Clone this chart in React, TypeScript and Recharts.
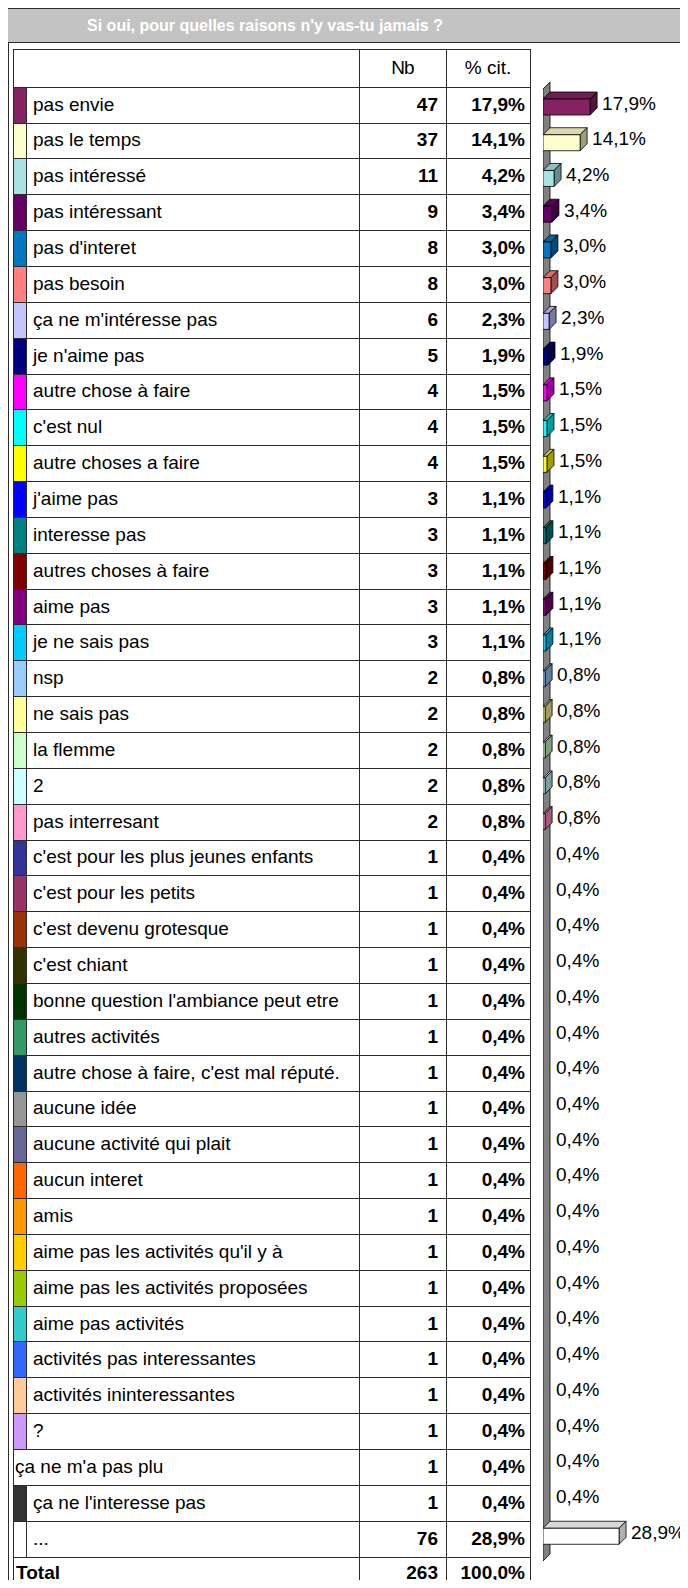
import { BarChart, Bar, XAxis, YAxis, LabelList, ReferenceArea } from "recharts";

// rows of the table (same order as the picture)
const labels = [
  "pas envie",
  "pas le temps",
  "pas intéressé",
  "pas intéressant",
  "pas d'interet",
  "pas besoin",
  "ça ne m'intéresse pas",
  "je n'aime pas",
  "autre chose à faire",
  "c'est nul",
  "autre choses a faire",
  "j'aime pas",
  "interesse pas",
  "autres choses à faire",
  "aime pas",
  "je ne sais pas",
  "nsp",
  "ne sais pas",
  "la flemme",
  "2",
  "pas interresant",
  "c'est pour les plus jeunes enfants",
  "c'est pour les petits",
  "c'est devenu grotesque",
  "c'est chiant",
  "bonne question l'ambiance peut etre",
  "autres activités",
  "autre chose à faire, c'est mal réputé.",
  "aucune idée",
  "aucune activité qui plait",
  "aucun interet",
  "amis",
  "aime pas les activités qu'il y à",
  "aime pas les activités proposées",
  "aime pas activités",
  "activités pas interessantes",
  "activités ininteressantes",
  "?",
  "ça ne m'a pas plu",
  "ça ne l'interesse pas",
  "...",
];

const counts = [
  47, 37, 11, 9, 8, 8, 6, 5, 4, 4, 4, 3, 3, 3, 3, 3, 2, 2, 2, 2, 2,
  1, 1, 1, 1, 1, 1, 1, 1, 1, 1, 1, 1, 1, 1, 1, 1, 1, 1, 1, 76,
];

const pcts = [
  17.9, 14.1, 4.2, 3.4, 3.0, 3.0, 2.3, 1.9, 1.5, 1.5, 1.5, 1.1, 1.1, 1.1, 1.1, 1.1,
  0.8, 0.8, 0.8, 0.8, 0.8,
  0.4, 0.4, 0.4, 0.4, 0.4, 0.4, 0.4, 0.4, 0.4, 0.4, 0.4, 0.4, 0.4, 0.4, 0.4, 0.4, 0.4, 0.4, 0.4,
  28.9,
];

const total = 263;
const totalPct = 100.0;

// swatch / bar colours, null = no swatch
const colors = [
  "#852262", "#ffffcc", "#a8e2e2", "#660066", "#0077c0", "#ff8080", "#c4c4ff", "#000080",
  "#ff00ff", "#00ffff", "#ffff00", "#0000ff", "#008080", "#800000", "#800080", "#00ccff",
  "#99ccff", "#ffff99", "#ccffcc", "#ccffff", "#ff99cc", "#333399", "#993366", "#993300",
  "#333300", "#003300", "#339966", "#003366", "#969696", "#666699", "#ff6600", "#ff9900",
  "#ffcc00", "#99cc00", "#33cccc", "#3366ff", "#ffcc99", "#cc99ff", null, "#333333", "#ffffff",
];

const FONT = '"Liberation Sans", Arial, sans-serif';
const LINE = "#2b2b2b";

// layout
const TABLE_L = 13;
const COL_NB = 359;
const COL_PCT = 446;
const TABLE_R = 530;
const TABLE_T = 49;
const ROW0 = 86.7;
const ROW_H = 35.85;
const DEPTH = 7;

const fmt = (v: number) => v.toFixed(1).replace(".", ",") + "%";

const data = labels.map((label, i) => ({
  label,
  pct: pcts[i],
  color: colors[i] ?? "#ffffff",
}));

function shade(hex: string, k: number) {
  const n = parseInt(hex.slice(1), 16);
  const r = Math.round(((n >> 16) & 255) * k);
  const g = Math.round(((n >> 8) & 255) * k);
  const b = Math.round((n & 255) * k);
  return `rgb(${r},${g},${b})`;
}

function Bar3D(props: any) {
  const { x, y, width, height, payload } = props;
  // the smallest values are too thin to show in the original
  if (payload.pct < 0.5) return <g />;
  const white = payload.color === "#ffffff";
  const c = payload.color;
  const side = white ? "#b0b0b0" : shade(c, 0.62);
  const top = white ? "#d8d8d8" : shade(c, 0.85);
  const d = DEPTH;
  const x1 = x + width;
  return (
    <g stroke="#000" strokeWidth={0.8} strokeLinejoin="round">
      <polygon points={`${x},${y} ${x + d},${y - d} ${x1 + d},${y - d} ${x1},${y}`} fill={top} />
      <polygon points={`${x1},${y} ${x1 + d},${y - d} ${x1 + d},${y + height - d} ${x1},${y + height}`} fill={side} />
      <rect x={x} y={y} width={width} height={height} fill={c} />
    </g>
  );
}

function Wall(props: any) {
  const { x, y, height } = props;
  const d = DEPTH;
  const bottom = y + height;
  return (
    <polygon
      points={`${x},${y} ${x + d},${y - d} ${x + d},${bottom} ${x},${bottom + d}`}
      fill="#808080"
      stroke="#000"
      strokeWidth={0.8}
    />
  );
}

function PctLabel(props: any) {
  const { x, y, width, height, value } = props;
  return (
    <text
      x={x + width + DEPTH + 5}
      y={y + height / 2 - 4}
      dominantBaseline="central"
      fontSize={19}
      fontFamily={FONT}
      fill="#000"
    >
      {fmt(value)}
    </text>
  );
}

export default function App() {
  const rowTop = (i: number) => ROW0 + i * ROW_H;
  const totalTop = rowTop(labels.length);

  return (
    <div style={{ position: "relative", width: 688, height: 1588, overflow: "hidden", background: "#fff", fontFamily: FONT, margin: -8 }}>
      {/* frame + title */}
      <div style={{ position: "absolute", left: 4, top: 8, width: 720, height: 1620, borderLeft: `1px solid ${LINE}`, borderTop: `1px solid ${LINE}` }} />
      <div style={{ position: "absolute", left: 8, top: 43, width: 1, height: 1560, background: LINE }} />
      <div style={{ position: "absolute", left: 5, top: 9, width: 720, height: 33, background: "#c3c3c3", borderBottom: `1px solid ${LINE}` }} />
      <div style={{ position: "absolute", left: 265, top: 9, height: 33, transform: "translateX(-50%)", display: "flex", alignItems: "center", whiteSpace: "nowrap", color: "#fff", fontSize: 16, fontWeight: "bold" }}>
        Si oui, pour quelles raisons n'y vas-tu jamais ?
      </div>

      {/* table grid */}
      <div style={{ position: "absolute", left: TABLE_L, top: TABLE_T, width: TABLE_R - TABLE_L, height: 1, background: LINE }} />
      {[...labels, "total"].map((_, i) => (
        <div key={"h" + i} style={{ position: "absolute", left: TABLE_L, top: Math.round(rowTop(i)), width: TABLE_R - TABLE_L, height: 1, background: LINE }} />
      ))}
      {[TABLE_L, COL_NB, COL_PCT, TABLE_R].map((x) => (
        <div key={"v" + x} style={{ position: "absolute", left: x, top: TABLE_T, width: 1, height: 1600, background: LINE }} />
      ))}

      {/* header */}
      <div style={{ position: "absolute", left: COL_NB, top: TABLE_T, width: COL_PCT - COL_NB, height: ROW0 - TABLE_T, display: "flex", alignItems: "center", justifyContent: "center", fontSize: 19, letterSpacing: -1 }}>Nb</div>
      <div style={{ position: "absolute", left: COL_PCT, top: TABLE_T, width: TABLE_R - COL_PCT, height: ROW0 - TABLE_T, display: "flex", alignItems: "center", justifyContent: "center", fontSize: 19 }}>% cit.</div>

      {/* rows */}
      {labels.map((label, i) => {
        const top = rowTop(i);
        const c = colors[i];
        return (
          <div key={label}>
            {c && (
              <div style={{ position: "absolute", left: TABLE_L + 1, top: Math.round(top) + 1, width: 12, height: Math.round(rowTop(i + 1)) - Math.round(top) - 1, background: c, borderRight: `1px solid ${LINE}` }} />
            )}
            <div style={{ position: "absolute", left: c ? 33 : 15, top, height: ROW_H, display: "flex", alignItems: "center", fontSize: 19, whiteSpace: "nowrap" }}>{label}</div>
            <div style={{ position: "absolute", left: COL_NB, top, width: COL_PCT - COL_NB - 8, height: ROW_H, display: "flex", alignItems: "center", justifyContent: "flex-end", fontSize: 19, fontWeight: "bold" }}>{counts[i]}</div>
            <div style={{ position: "absolute", left: COL_PCT, top, width: TABLE_R - COL_PCT - 5, height: ROW_H, display: "flex", alignItems: "center", justifyContent: "flex-end", fontSize: 19, fontWeight: "bold" }}>{fmt(pcts[i])}</div>
          </div>
        );
      })}

      {/* total */}
      <div style={{ position: "absolute", left: 16, top: totalTop, height: 33, display: "flex", alignItems: "center", fontSize: 19, fontWeight: "bold" }}>Total</div>
      <div style={{ position: "absolute", left: COL_NB, top: totalTop, width: COL_PCT - COL_NB - 8, height: 33, display: "flex", alignItems: "center", justifyContent: "flex-end", fontSize: 19, fontWeight: "bold" }}>{total}</div>
      <div style={{ position: "absolute", left: COL_PCT, top: totalTop, width: TABLE_R - COL_PCT - 5, height: 33, display: "flex", alignItems: "center", justifyContent: "flex-end", fontSize: 19, fontWeight: "bold" }}>{fmt(totalPct)}</div>

      {/* 3D bars */}
      <div style={{ position: "absolute", left: 543, top: 79 }}>
        <BarChart
          width={150}
          height={1485}
          data={data}
          layout="vertical"
          margin={{ top: 10, right: 0, bottom: 10, left: 0 }}
          style={{ overflow: "visible" }}
        >
          <XAxis type="number" domain={[0, 57]} hide />
          <YAxis type="category" dataKey="label" hide />
          <ReferenceArea x1={0} x2={2.66} shape={<Wall />} ifOverflow="visible" zIndex={-1} />
          <Bar dataKey="pct" barSize={16} shape={<Bar3D />} isAnimationActive={false}>
            <LabelList dataKey="pct" content={<PctLabel />} />
          </Bar>
        </BarChart>
      </div>
    </div>
  );
}
